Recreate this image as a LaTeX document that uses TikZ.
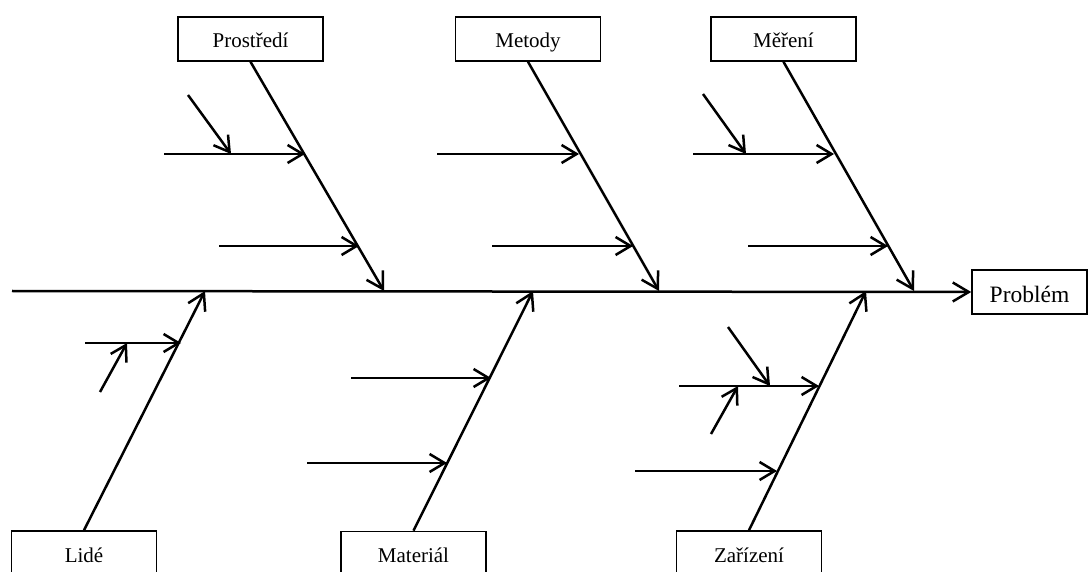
\documentclass[tikz,border=0pt]{standalone}
\usepackage{fontspec}
\setmainfont{Liberation Serif}
\usetikzlibrary{arrows.meta}
\begin{document}
\begin{tikzpicture}[x=1pt,y=-1pt,
  cat/.style={draw,line width=1.6pt,minimum width=145pt,inner sep=0pt,text height=31pt,text depth=13pt,font=\fontsize{21}{24}\selectfont,fill=white},
  bone/.style={line width=2.5pt,-{Straight Barb[length=16pt,width=19pt,line width=2.5pt]}},
  thin/.style={line width=2.5pt,-{Straight Barb[length=15pt,width=18pt,line width=2.5pt]}}]
\useasboundingbox (0,0) rectangle (1088,572);
% boxes
\node[cat] (pro) at (250.5,39) {Prostředí};
\node[cat] (met) at (528,39) {Metody};
\node[cat] (mer) at (783.5,39) {Měření};
\node[cat] (lid) at (84,553) {Lidé};
\node[cat] (mat) at (413.5,553.5) {Materiál};
\node[cat] (zar) at (749,553) {Zařízení};
\node[cat,minimum width=115pt,text height=33pt,text depth=11pt,font=\fontsize{23.5}{26}\selectfont] (prob) at (1029.5,292) {Problém};
% spine
\coordinate (s0) at (12,291);
\draw[bone] (s0) -- (prob.west);
% branch tips on spine
\coordinate (tpro) at (384,291);
\coordinate (tmet) at (659,291);
\coordinate (tmer) at (914,291);
\coordinate (tlid) at (205,291);
\coordinate (tmat) at (533,291);
\coordinate (tzar) at (866,291);
\draw[bone] (pro.south) -- (tpro);
\draw[bone] (met.south) -- (tmet);
\draw[bone] (mer.south) -- (tmer);
\draw[bone] (lid.north) -- (tlid);
\draw[bone] (mat.north) -- (tmat);
\draw[bone] (zar.north) -- (tzar);
% Prostredi sub-branches
\coordinate (p1a) at (164,154); \coordinate (p1b) at (305,154);
\coordinate (p2a) at (219,246); \coordinate (p2b) at (359,246);
\coordinate (p1sa) at (188,95); \coordinate (p1sb) at (231,154);
\draw[thin] (p1a) -- (p1b);
\draw[thin] (p2a) -- (p2b);
\draw[thin] (p1sa) -- (p1sb);
% Metody
\coordinate (m1a) at (437,154); \coordinate (m1b) at (579,154);
\coordinate (m2a) at (492,246); \coordinate (m2b) at (633,246);
\draw[thin] (m1a) -- (m1b);
\draw[thin] (m2a) -- (m2b);
% Mereni
\coordinate (r1a) at (693,154); \coordinate (r1b) at (834,154);
\coordinate (r2a) at (748,246); \coordinate (r2b) at (888,246);
\coordinate (r1sa) at (703,94); \coordinate (r1sb) at (746,154);
\draw[thin] (r1a) -- (r1b);
\draw[thin] (r2a) -- (r2b);
\draw[thin] (r1sa) -- (r1sb);
% Lide
\coordinate (l1a) at (85,343); \coordinate (l1b) at (181,343);
\coordinate (l1sa) at (100,392); \coordinate (l1sb) at (127,343);
\draw[thin] (l1a) -- (l1b);
\draw[thin] (l1sa) -- (l1sb);
% Material
\coordinate (a1a) at (351,378); \coordinate (a1b) at (491,378);
\coordinate (a2a) at (307,463); \coordinate (a2b) at (447,463);
\draw[thin] (a1a) -- (a1b);
\draw[thin] (a2a) -- (a2b);
% Zarizeni
\coordinate (z1a) at (679,386); \coordinate (z1b) at (819,386);
\coordinate (z2a) at (635,471); \coordinate (z2b) at (777,471);
\coordinate (z1sa) at (728,327); \coordinate (z1sb) at (770,386);
\coordinate (z2sa) at (711,434); \coordinate (z2sb) at (738,386);
\draw[thin] (z1a) -- (z1b);
\draw[thin] (z2a) -- (z2b);
\draw[thin] (z1sa) -- (z1sb);
\draw[thin] (z2sa) -- (z2sb);
\end{tikzpicture}
\end{document}
